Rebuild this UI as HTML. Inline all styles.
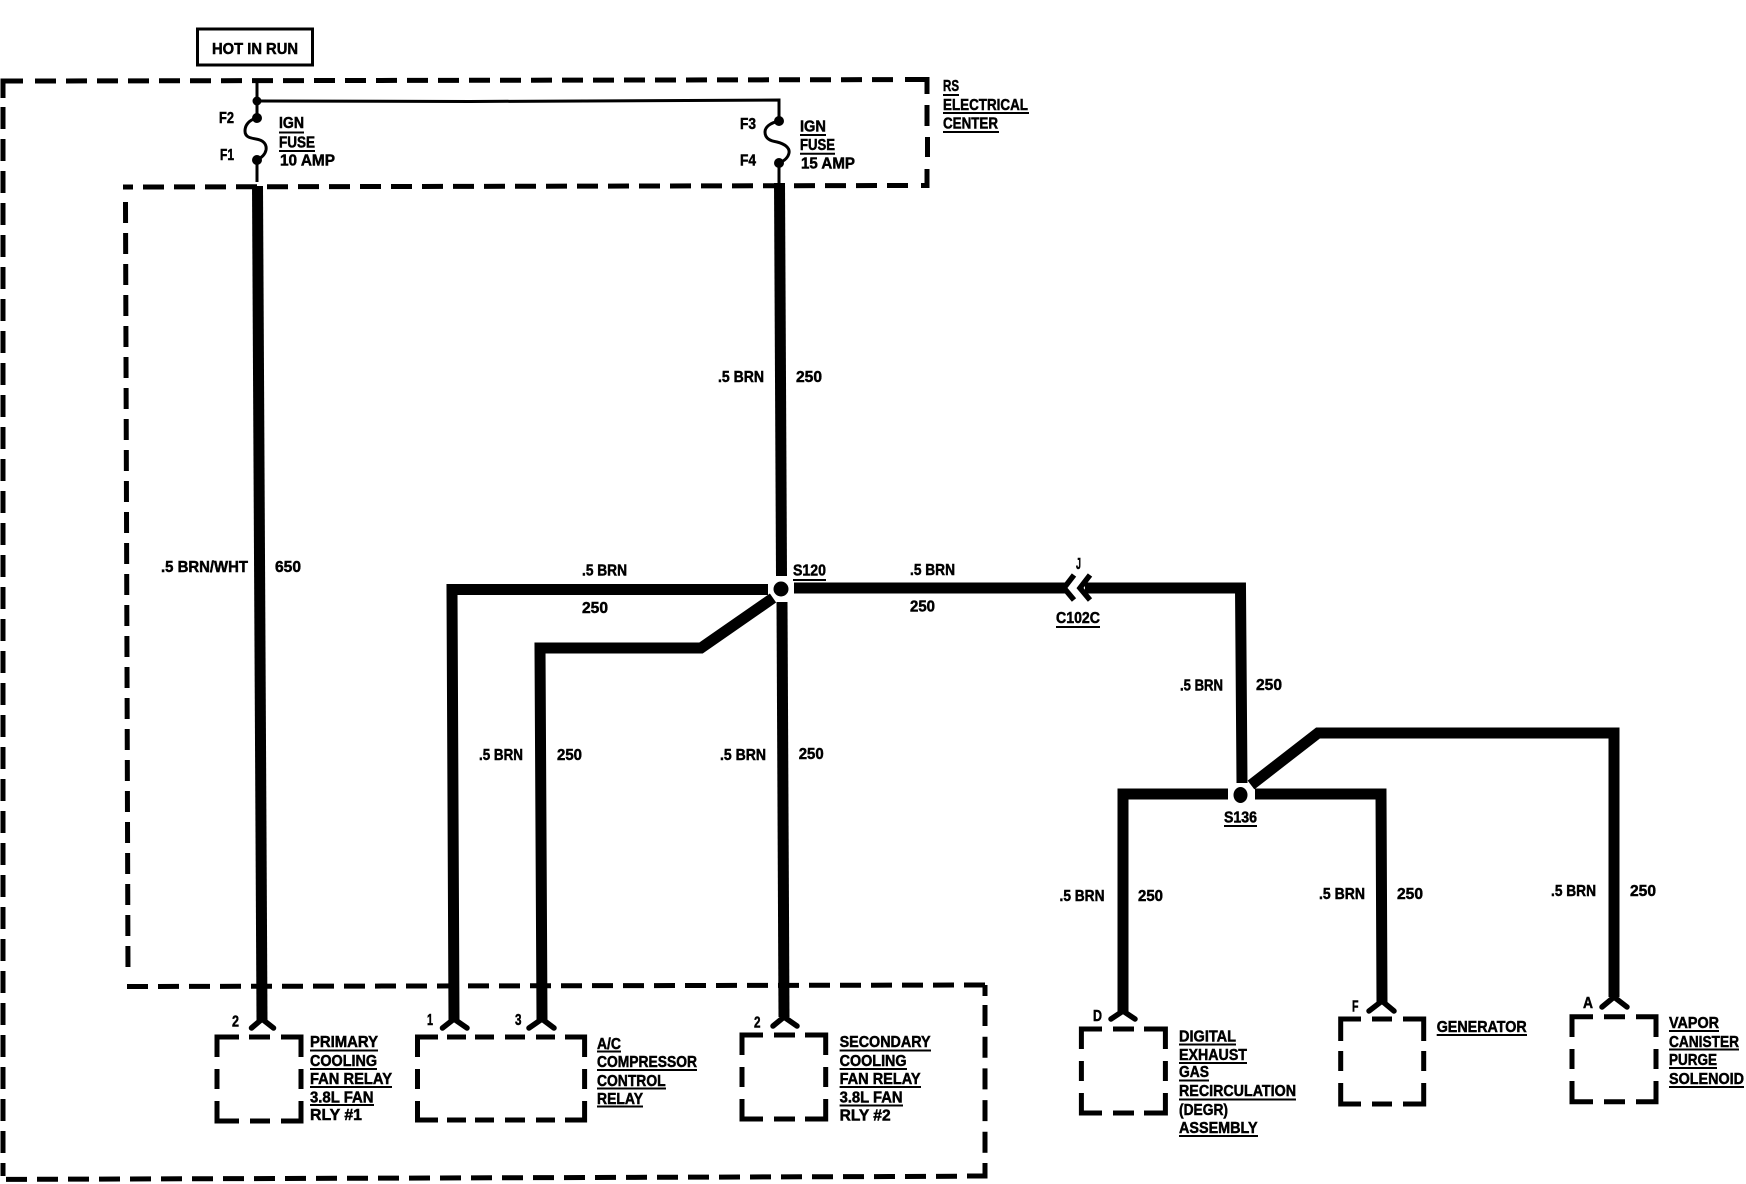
<!DOCTYPE html>
<html>
<head>
<meta charset="utf-8">
<title>Wiring diagram</title>
<style>
html,body{margin:0;padding:0;background:#fff;}
svg{display:block;}
text{font-family:"Liberation Sans",sans-serif;font-weight:bold;font-size:16px;fill:#000;stroke:#000;stroke-width:.5;}
.w{fill:none;stroke:#000;stroke-width:11;stroke-linejoin:miter;}
.t{fill:none;stroke:#000;stroke-width:3;}
.d{fill:none;stroke:#000;stroke-width:5;stroke-dasharray:21 10;}
.s{fill:none;stroke:#000;stroke-width:5;}
.f{fill:none;stroke:#000;stroke-width:5.5;stroke-linecap:round;stroke-linejoin:miter;}
.u{fill:none;stroke:#000;stroke-width:2;}
</style>
</head>
<body>
<svg xmlns="http://www.w3.org/2000/svg" width="1746" height="1184" viewBox="0 0 1746 1184">
<rect width="1746" height="1184" fill="#fff"/>

<!-- HOT IN RUN -->
<rect x="197.5" y="29" width="115" height="36" fill="none" stroke="#000" stroke-width="3"/>
<text x="212" y="54" textLength="86" lengthAdjust="spacingAndGlyphs">HOT IN RUN</text>

<!-- Outer dashed boundary -->
<path class="s" d="M3,98V81H23"/>
<path class="d" d="M35,81L900,79.6"/>
<path class="s" d="M905,79.5H927V94"/>
<path class="s" d="M927,105V126M927.5,137V157"/>
<path class="s" d="M927,169V185.5H921"/>
<path class="d" d="M908,185.5L133,187"/>
<path class="s" d="M123,187H133"/>
<path class="d" d="M125.5,202L128,975"/>
<path class="d" d="M127,986.5L985,985"/>
<path class="s" d="M985,985V996"/>
<path class="d" style="stroke-dasharray:21 10.7" d="M985,1005V1160"/>
<path class="s" d="M985,1163V1176H967"/>
<path class="d" d="M957,1176.3L0,1179.4"/>
<path class="d" style="stroke-dasharray:22 10" d="M3,107V1176"/>

<!-- Fuse left -->
<path class="t" d="M257,81V118"/>
<path class="t" d="M257,160V182"/>
<path class="t" d="M257,101L470,101.5L779,100V121"/>
<circle cx="257" cy="101" r="4.5"/>
<circle cx="257" cy="118" r="5"/>
<circle cx="257" cy="160" r="5"/>
<path class="t" d="M257,118C249,120 245,125 245,131C245,137 250,138 256,139C263,140 267,144 266,150C265,155 261,158 257,160"/>
<!-- Fuse right -->
<circle cx="779" cy="121" r="5"/>
<circle cx="779" cy="163" r="5"/>
<path class="t" d="M779,121C770,123 765,127 765,132C765,139 771,141 777,142C785,144 790,148 789,153C788,158 784,161 779,163V183"/>

<!-- Thick wires -->
<path class="w" d="M257.5,186L262,1020"/>
<path class="w" d="M779.5,183L781.5,576"/>
<path class="w" d="M768,589.5H452L454,1020"/>
<path class="w" d="M773,598L701,648H540L542,1020"/>
<path class="w" d="M782,602L784,1017"/>
<path class="w" d="M794,588H1067"/>
<path class="w" d="M1085,588H1240.5L1242,783"/>
<path class="w" d="M1251,785L1318,733H1614V997"/>
<path class="w" d="M1228,794H1123V1012"/>
<path class="w" d="M1255,794H1381L1382,1002"/>

<!-- Splices -->
<circle cx="781" cy="589" r="7.5"/>
<ellipse cx="1240.5" cy="795" rx="7" ry="8"/>

<!-- Connector C102C -->
<path d="M1074,575L1064,588L1074,600" fill="none" stroke="#000" stroke-width="5.5"/>
<path d="M1090,575L1080,588L1090,600" fill="none" stroke="#000" stroke-width="5.5"/>

<!-- Feet -->
<path class="f" d="M251.5,1028L262,1019L273.5,1028"/>
<path class="f" d="M442.5,1028L454,1019L467,1028"/>
<path class="f" d="M529,1028L542,1019L554,1028"/>
<path class="f" d="M773,1026L784,1017L797,1026"/>
<path class="f" d="M1111,1019L1123,1011L1135,1019"/>
<path class="f" d="M1369,1011L1382,1001L1394,1011"/>
<path class="f" d="M1602,1007L1614,997L1627,1007"/>

<!-- Component boxes -->
<g class="s">
<path class="s" d="M217,1057V1037H239M249,1037H270M281,1037H301V1057M301,1069V1089M301,1101V1121H281M270,1121H250M239,1121H217V1101M217,1089V1069"/>
<path class="s" d="M417.5,1057V1037H438M447,1037H466M475,1037H494M505,1037H525M536,1037H555M565,1037H584.6V1057M584.6,1069V1089M584.6,1101V1120H565M555,1120H536M525,1120H505M494,1120H475M466,1120H447M438,1120H417.5V1101M417.5,1089V1069"/>
<path class="s" d="M742,1055V1035H763M774,1035H795M805,1035H825.7V1055M825.7,1067V1087M825.7,1099V1119H805M795,1119H774M763,1119H742V1099M742,1087V1067"/>
<path class="s" d="M1081.4,1049V1029H1102M1113,1029H1134M1144,1029H1165.4V1049M1165.4,1061V1081M1165.4,1093V1113H1144M1134,1113H1113M1102,1113H1081.4V1093M1081.4,1081V1061"/>
<path class="s" d="M1340.7,1041V1019H1361M1372,1019H1392M1403,1019H1423.7V1041M1423.7,1051V1071M1423.7,1083V1104H1403M1392,1104H1372M1361,1104H1340.7V1083M1340.7,1071V1051"/>
<path class="s" d="M1572,1037V1016.7H1593M1604,1016.7H1625M1636,1016.7H1656V1037M1656,1049V1069M1656,1081V1101.7H1636M1625,1101.7H1604M1593,1101.7H1572V1081M1572,1069V1049"/>
</g>

<!-- Fuse labels -->
<text x="219" y="123" textLength="15" lengthAdjust="spacingAndGlyphs">F2</text>
<text x="220" y="160" textLength="14" lengthAdjust="spacingAndGlyphs">F1</text>
<text x="279" y="128" textLength="25" lengthAdjust="spacingAndGlyphs">IGN</text>
<path class="u" d="M279,132.5H304"/>
<text x="279" y="147.5" textLength="36" lengthAdjust="spacingAndGlyphs">FUSE</text>
<path class="u" d="M279,151H315"/>
<text x="280" y="165.7" textLength="55" lengthAdjust="spacingAndGlyphs">10 AMP</text>
<text x="740" y="129" textLength="16" lengthAdjust="spacingAndGlyphs">F3</text>
<text x="740" y="165.7" textLength="16" lengthAdjust="spacingAndGlyphs">F4</text>
<text x="800" y="131.7" textLength="26" lengthAdjust="spacingAndGlyphs">IGN</text>
<path class="u" d="M800,135H826"/>
<text x="800" y="150" textLength="35" lengthAdjust="spacingAndGlyphs">FUSE</text>
<path class="u" d="M800,153.7H835"/>
<text x="801" y="168.3" textLength="54" lengthAdjust="spacingAndGlyphs">15 AMP</text>

<text x="943" y="91" textLength="16" lengthAdjust="spacingAndGlyphs">RS</text>
<path class="u" d="M943,95H959"/>
<text x="943" y="110" textLength="85" lengthAdjust="spacingAndGlyphs">ELECTRICAL</text>
<path class="u" d="M943,113H1029"/>
<text x="943" y="128.3" textLength="55" lengthAdjust="spacingAndGlyphs">CENTER</text>
<path class="u" d="M943,132H999"/>

<!-- Wire labels -->
<text x="161" y="572" textLength="87" lengthAdjust="spacingAndGlyphs">.5 BRN/WHT</text>
<text x="275" y="572" textLength="26" lengthAdjust="spacingAndGlyphs">650</text>
<text x="718" y="382" textLength="46" lengthAdjust="spacingAndGlyphs">.5 BRN</text>
<text x="796" y="382" textLength="26" lengthAdjust="spacingAndGlyphs">250</text>
<text x="582" y="575.7" textLength="45" lengthAdjust="spacingAndGlyphs">.5 BRN</text>
<text x="582" y="613" textLength="26" lengthAdjust="spacingAndGlyphs">250</text>
<text x="793" y="575.7" textLength="33" lengthAdjust="spacingAndGlyphs">S120</text>
<path class="u" d="M793,580H826"/>
<text x="910" y="575" textLength="45" lengthAdjust="spacingAndGlyphs">.5 BRN</text>
<text x="910" y="611.7" textLength="25" lengthAdjust="spacingAndGlyphs">250</text>
<text x="1076" y="569" textLength="5" lengthAdjust="spacingAndGlyphs">J</text>
<text x="1056" y="623" textLength="44" lengthAdjust="spacingAndGlyphs">C102C</text>
<path class="u" d="M1056,627H1100"/>
<text x="479" y="760" textLength="44" lengthAdjust="spacingAndGlyphs">.5 BRN</text>
<text x="557" y="760" textLength="25" lengthAdjust="spacingAndGlyphs">250</text>
<text x="720" y="760" textLength="46" lengthAdjust="spacingAndGlyphs">.5 BRN</text>
<text x="798.7" y="759" textLength="25" lengthAdjust="spacingAndGlyphs">250</text>
<text x="1180" y="690.7" textLength="43" lengthAdjust="spacingAndGlyphs">.5 BRN</text>
<text x="1256" y="690" textLength="26" lengthAdjust="spacingAndGlyphs">250</text>
<text x="1224" y="822.7" textLength="33" lengthAdjust="spacingAndGlyphs">S136</text>
<path class="u" d="M1224,826H1257"/>
<text x="1059.5" y="901" textLength="45" lengthAdjust="spacingAndGlyphs">.5 BRN</text>
<text x="1138" y="901" textLength="25" lengthAdjust="spacingAndGlyphs">250</text>
<text x="1319" y="899" textLength="46" lengthAdjust="spacingAndGlyphs">.5 BRN</text>
<text x="1397" y="899" textLength="26" lengthAdjust="spacingAndGlyphs">250</text>
<text x="1551" y="896" textLength="45" lengthAdjust="spacingAndGlyphs">.5 BRN</text>
<text x="1630" y="896" textLength="26" lengthAdjust="spacingAndGlyphs">250</text>

<!-- Pin labels -->
<text x="232" y="1026.7" textLength="7" lengthAdjust="spacingAndGlyphs">2</text>
<text x="427" y="1025" textLength="6" lengthAdjust="spacingAndGlyphs">1</text>
<text x="515" y="1025" textLength="6.5" lengthAdjust="spacingAndGlyphs">3</text>
<text x="754" y="1027.7" textLength="6.5" lengthAdjust="spacingAndGlyphs">2</text>
<text x="1093" y="1021" textLength="9" lengthAdjust="spacingAndGlyphs">D</text>
<text x="1352" y="1011.7" textLength="6.5" lengthAdjust="spacingAndGlyphs">F</text>
<text x="1583" y="1008" textLength="10" lengthAdjust="spacingAndGlyphs">A</text>

<!-- Component labels -->
<text x="310" y="1047" textLength="68" lengthAdjust="spacingAndGlyphs">PRIMARY</text>
<path class="u" d="M310,1050.5H378"/>
<text x="310" y="1066" textLength="67" lengthAdjust="spacingAndGlyphs">COOLING</text>
<path class="u" d="M310,1069H377"/>
<text x="310" y="1084" textLength="82" lengthAdjust="spacingAndGlyphs">FAN RELAY</text>
<path class="u" d="M310,1087H392"/>
<text x="310" y="1102.5" textLength="63.5" lengthAdjust="spacingAndGlyphs">3.8L FAN</text>
<path class="u" d="M310,1105H374"/>
<text x="310" y="1120" textLength="52" lengthAdjust="spacingAndGlyphs">RLY #1</text>

<text x="597" y="1049" textLength="24" lengthAdjust="spacingAndGlyphs">A/C</text>
<path class="u" d="M597,1051.5H621"/>
<text x="597" y="1067" textLength="100" lengthAdjust="spacingAndGlyphs">COMPRESSOR</text>
<path class="u" d="M597,1070H697"/>
<text x="597" y="1086" textLength="68.6" lengthAdjust="spacingAndGlyphs">CONTROL</text>
<path class="u" d="M597,1088.5H666"/>
<text x="597" y="1104" textLength="46" lengthAdjust="spacingAndGlyphs">RELAY</text>
<path class="u" d="M597,1106.5H643"/>

<text x="839.6" y="1047" textLength="91" lengthAdjust="spacingAndGlyphs">SECONDARY</text>
<path class="u" d="M839.6,1050.5H931"/>
<text x="839.6" y="1066" textLength="67" lengthAdjust="spacingAndGlyphs">COOLING</text>
<path class="u" d="M839.6,1069H907"/>
<text x="839.6" y="1084" textLength="81" lengthAdjust="spacingAndGlyphs">FAN RELAY</text>
<path class="u" d="M839.6,1087H921"/>
<text x="839.6" y="1102.7" textLength="63" lengthAdjust="spacingAndGlyphs">3.8L FAN</text>
<path class="u" d="M839.6,1105.5H903"/>
<text x="839.6" y="1120.7" textLength="51" lengthAdjust="spacingAndGlyphs">RLY #2</text>

<text x="1179" y="1041.7" textLength="57" lengthAdjust="spacingAndGlyphs">DIGITAL</text>
<path class="u" d="M1179,1044.5H1236"/>
<text x="1179" y="1060" textLength="68" lengthAdjust="spacingAndGlyphs">EXHAUST</text>
<path class="u" d="M1179,1063H1247"/>
<text x="1179" y="1077" textLength="30" lengthAdjust="spacingAndGlyphs">GAS</text>
<path class="u" d="M1179,1080.5H1209"/>
<text x="1179" y="1096" textLength="117" lengthAdjust="spacingAndGlyphs">RECIRCULATION</text>
<path class="u" d="M1179,1099.5H1296"/>
<text x="1179" y="1115" textLength="49" lengthAdjust="spacingAndGlyphs">(DEGR)</text>
<text x="1179" y="1133" textLength="78.6" lengthAdjust="spacingAndGlyphs">ASSEMBLY</text>
<path class="u" d="M1179,1136H1258"/>

<text x="1436.7" y="1032" textLength="90" lengthAdjust="spacingAndGlyphs">GENERATOR</text>
<path class="u" d="M1436.7,1035H1527"/>

<text x="1669" y="1028" textLength="50" lengthAdjust="spacingAndGlyphs">VAPOR</text>
<path class="u" d="M1669,1031H1719"/>
<text x="1669" y="1047" textLength="70" lengthAdjust="spacingAndGlyphs">CANISTER</text>
<path class="u" d="M1669,1049.5H1739"/>
<text x="1669" y="1065" textLength="48" lengthAdjust="spacingAndGlyphs">PURGE</text>
<path class="u" d="M1669,1068H1717"/>
<text x="1669" y="1084" textLength="75" lengthAdjust="spacingAndGlyphs">SOLENOID</text>
<path class="u" d="M1669,1087H1744"/>
</svg>
</body>
</html>
